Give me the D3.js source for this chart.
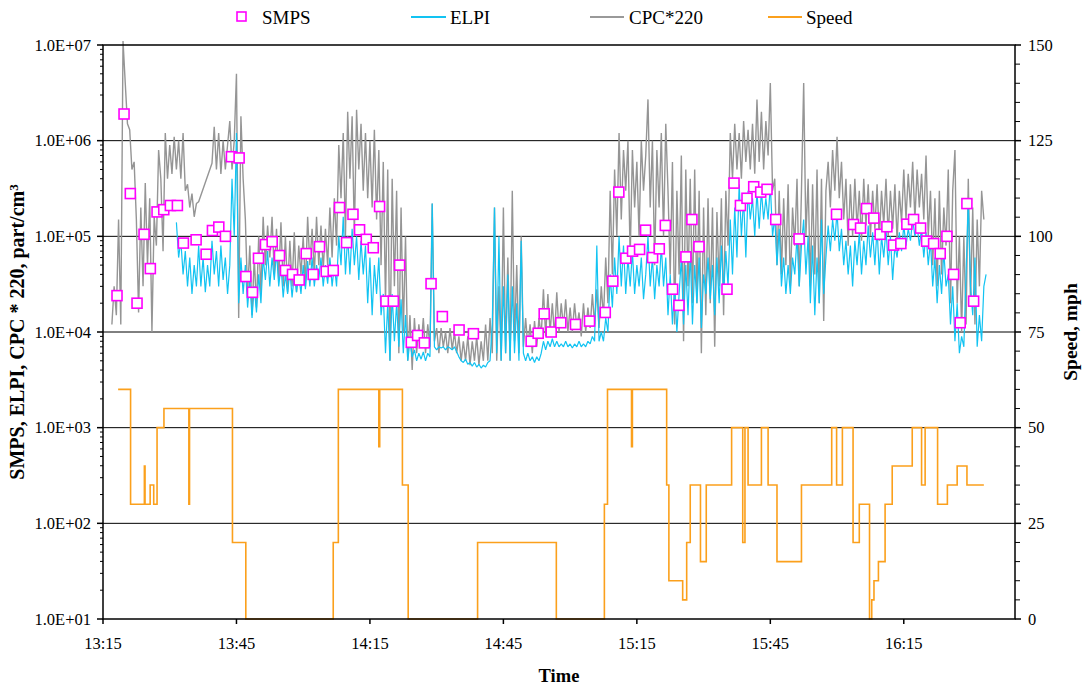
<!DOCTYPE html>
<html><head><meta charset="utf-8">
<script src="https://cdn.jsdelivr.net/npm/d3@7"></script>
<style>
body{margin:0;background:#fff;}
svg{display:block;}
svg text{font-family:"Liberation Serif","Times New Roman",serif;}
</style></head>
<body><svg id="c" width="1083" height="688"></svg>
<script>
// ---------- DATA ----------
const startClock = "13:15";          // time origin; all times below are minutes after it
const endMinutes = 205;              // x axis ends 16:40
const xTickMinutes = [0, 30, 60, 90, 120, 150, 180];
const yTickValues = [1e1, 1e2, 1e3, 1e4, 1e5, 1e6, 1e7];
const speedTicks = [0, 25, 50, 75, 100, 125, 150];

// SMPS samples (minutes after 13:15, part/cm3)
const smpsT = [3.15,4.73,6.14,7.65,9.23,10.64,12.15,13.66,15.14,16.72,18.07,20.93,23.18,24.6,26.03,27.52,28.87,30.6,32.11,33.6,34.95,36.52,38.03,39.67,41.02,42.6,44.1,45.68,47.25,48.67,50.18,51.75,53.17,54.75,56.19,57.67,59.18,60.75,62.17,63.61,65.26,66.67,69.3,70.72,72.23,73.74,76.28,80.04,83.26,96.24,97.82,99.17,100.74,102.9,106.21,109.36,112.9,114.6,115.95,117.53,119.03,120.61,121.96,123.54,125.04,126.4,128.04,129.46,131.03,132.38,133.96,140.26,141.84,143.28,144.76,146.27,147.84,149.26,151.22,156.46,164.88,168.7,170.28,171.63,173.27,174.69,176.2,177.7,179.34,180.69,182.2,183.78,185.13,186.71,188.19,189.7,191.2,192.68,194.19,195.7];
const smpsV = [2.4e4,1.9e6,2.8e5,2e4,1.05e5,4.6e4,1.8e5,1.9e5,2.1e5,2.1e5,8.5e4,9.2e4,6.5e4,1.15e5,1.25e5,1e5,6.8e5,6.6e5,3.8e4,2.6e4,5.9e4,8.2e4,8.8e4,6.3e4,4.4e4,4e4,3.5e4,6.6e4,4e4,7.8e4,4.3e4,4.4e4,2e5,8.6e4,1.7e5,1.17e5,9.3e4,7.6e4,2.05e5,2.1e4,2.1e4,5e4,7.8e3,9.2e3,7.7e3,3.2e4,1.45e4,1.05e4,9.6e3,8e3,9.7e3,1.55e4,1e4,1.25e4,1.2e4,1.3e4,1.6e4,3.4e4,2.9e5,5.9e4,7e4,7.3e4,1.16e5,6e4,7.4e4,1.3e5,2.8e4,1.9e4,6.1e4,1.5e5,7.8e4,2.8e4,3.6e5,2.1e5,2.5e5,3.3e5,2.9e5,3.1e5,1.5e5,9.4e4,1.7e5,1.33e5,1.22e5,1.95e5,1.55e5,1.05e5,1.26e5,8.1e4,8.4e4,1.34e5,1.5e5,1.22e5,8.9e4,8.4e4,6.6e4,1e5,4e4,1.25e4,2.2e5,2.1e4];

// CPC*220, every 0.5 min from minute 2.0 (null = no reading)
const cpcStart = 2.0, cpcStep = 0.5;
const cpcV = [1.2e4,3e4,1.5e4,1.5e5,1.2e4,1.1e7,4e6,1.5e6,1.3e6,5e5,
6e5,1.5e5,1.6e4,2e5,3e4,3.6e5,5e4,2.5e5,1e4,1.6e5,
8e4,8e5,4e5,7e4,1.2e6,4e5,9e5,4.5e5,1.1e6,5e5,
1e6,4e5,1.2e6,3e5,3.5e5,2e5,2.8e5,1.6e5,2.2e5,2.3e5,
null,null,null,null,null,5.8e5,
1.4e6,5e5,1.2e6,4.5e5,1e6,5e5,9e5,1.6e6,5e5,1e6,
5e6,1.4e4,1.8e6,4e5,1.5e5,2.5e4,8e4,1.5e4,6e4,1.8e4,
1e5,2.5e4,1.6e5,5e4,1.3e5,6e4,1.6e5,4e4,1.2e5,3.5e4,
1.4e5,3e4,1e5,2.6e4,9e4,3e4,1.1e5,2.6e4,8e4,4e4,
1e5,3e4,1.6e5,5e4,1.2e5,4e4,1.6e5,5e4,1.3e5,4.5e4,
1.2e5,5e4,2e5,6e4,2.5e5,8e4,9e5,2.5e5,1.2e6,1e5,
2e6,4e5,1.8e6,1e5,2.1e6,5e5,1.5e6,3e5,1.2e6,2.5e5,
1e6,2e5,1.3e6,1.5e5,8e5,5e4,6e5,2e4,5e5,5e3,
4e5,3e4,3e5,6e3,2e5,1e4,1e5,5e3,1.5e4,4e3,
1.4e4,6e3,1.2e4,7e3,1.4e4,6e3,1.2e4,7e3,2.2e5,8e3,
1.1e4,6e3,1.1e4,7e3,1e4,6e3,1.1e4,6.5e3,1e4,6e3,
9e3,5e3,8e3,5e3,9e3,4.5e3,8e3,5e3,9e3,4.5e3,
8e3,5e3,1.2e4,5e3,1.4e4,6e3,2e5,5e3,3e4,5e3,
2e5,6e3,6e4,5e3,3e5,8e3,5e4,6e3,1e5,7e3,
1.4e4,7e3,1.2e4,6e3,1.3e4,7e3,1.4e4,9e3,2.8e4,9e3,
2.5e4,1e4,2e4,9e3,2.6e4,1e4,2e4,1.1e4,2.2e4,1e4,
1.8e4,1e4,2e4,1.1e4,1.6e4,9e3,2e4,1e4,1.8e4,1.1e4,
2.5e4,1.2e4,2.8e4,1.1e4,3e4,1.4e4,6e4,2e4,3e5,4e4,
5e5,1e5,1.2e6,1.5e5,8e5,3e5,1e6,6e4,8e5,2e5,
6e5,1e5,1e6,3e5,7e5,2.7e6,2e5,1e6,5e4,8e5,
2e5,1.2e6,1e5,1.5e6,3e5,4e4,6e5,1.2e4,3e5,4e4,
7e5,8e3,5e5,3e4,4e5,2e4,5e5,2e4,3e5,6e3,
2e5,1.5e4,2.5e5,2e4,2e5,7e3,1.8e5,3e4,2.5e5,1.5e4,
3e5,8e4,1.2e6,4e5,1.5e6,5e5,1.2e6,4e5,1.6e6,6e5,
1.3e6,5e5,1.5e6,4.5e5,2.7e6,6e5,2e6,5e5,1.6e6,7e5,
4e6,3e5,4e5,5e4,3e5,4e4,2.5e5,5e4,3.5e5,3e4,
2e5,8e4,4e5,3e4,3e5,4e6,1e5,4e5,3e4,3.5e5,
4e4,5e5,2e4,4e5,1.3e4,3e5,6e5,2e5,8e5,3e5,
1.1e6,2.5e5,6e5,1.5e5,4e5,8e4,3.5e5,1e5,4e5,1.2e5,
3e5,9e4,4e5,1.3e5,3.5e5,1e5,3e5,1.2e5,3.5e5,9e4,
3e5,1.3e5,4e5,1e5,3e5,1.2e5,3.5e5,9e4,3e5,1.4e5,
5e5,1.5e5,4.5e5,2e5,6e5,1.5e5,5e5,2e5,4.5e5,1.5e5,
7e5,1e5,3e5,5e4,2.5e5,3e4,3e5,4e4,2e5,8e4,
5e5,2e4,3e5,8e5,2e4,1e5,1e4,1e5,1.2e4,4e5,
2e4,2e5,1.2e4,1.5e5,3e4,3e5,1.5e5];

// ELPI, every 0.5 min from minute 16.5
const elpiStart = 16.5, elpiStep = 0.5;
const elpiV = [1.4e5,6e4,9e4,4e4,7e4,3e4,6e4,2.5e4,5e4,3e4,
8e4,3e4,6e4,2.6e4,5e4,3e4,9e4,4e4,7e4,3e4,
8e4,3.5e4,6e4,2.5e4,5e4,4e5,1e5,1.2e6,2e4,6e4,
2.5e4,5e4,1.8e4,3.5e4,1.4e4,3e4,1.6e4,4e4,2e4,6e4,
3.5e4,7e4,3e4,6e4,3.5e4,7e4,3e4,5e4,2.3e4,4e4,
2.5e4,4.5e4,2.3e4,4e4,2.6e4,4e4,2.5e4,5e4,2.8e4,5.5e4,
3e4,6e4,3e4,5e4,3.5e4,6e4,3e4,5e4,3.2e4,6e4,
3e4,5e4,3e4,1e5,5e4,1.6e5,4e4,1e5,4e4,1.2e5,
5e4,1e5,3.5e4,9e4,4e4,8e4,2e4,6e4,1.5e4,5e4,
2.5e4,6e4,1.5e4,2.5e4,6e3,2e4,5e3,2.5e4,8e3,2e4,
7e3,2.2e4,6e3,1.5e4,5e3,8e3,5.5e3,6.5e3,5e3,6e3,
5.2e3,6.2e3,5e3,6e3,5.5e3,2.2e5,7e3,6.5e3,7e3,6.8e3,
7e3,6.5e3,7e3,6.8e3,6.5e3,7e3,6.2e3,5.5e3,5e3,4.8e3,
5.2e3,4.6e3,4.8e3,4.4e3,4.8e3,4.3e3,4.6e3,4.2e3,4.5e3,4.3e3,
4.8e3,5e3,1.2e4,2e5,6e3,1e5,5e3,3e4,6e3,4e4,
5e3,3e4,6e3,2e4,5e3,9e4,6e3,5e3,6e3,5e3,
5.5e3,4.8e3,5.5e3,5e3,6e3,8e3,6.5e3,8e3,7e3,8.5e3,
7e3,8e3,7e3,7.5e3,7e3,8e3,7e3,7.5e3,6.8e3,7.5e3,
7e3,8e3,7e3,7.5e3,7e3,8e3,7.5e3,9e3,8e3,8e4,
8e3,1e4,8e3,1.4e4,1e4,4e4,1.8e4,6e4,2.5e4,1e5,
3e4,8e4,2.5e4,6e4,3e4,7e4,2.5e4,5e4,3e4,6e4,
2.2e4,4e4,1e5,3e4,6e4,2.2e4,5e4,3e4,8e4,3e4,
6e4,1.5e4,4e4,1.2e4,3e4,1e4,2.5e4,6e4,1.2e4,5e4,
1.5e4,7e4,1.2e4,5e4,2e4,6e4,1.1e4,4e4,2.5e4,6e4,
2.2e4,5e4,1.5e4,6e4,2e4,8e4,2.5e4,7e4,3e4,1.5e5,
4e4,2e5,6e4,3.5e5,1e5,2.5e5,6e4,3e5,1.5e5,2.5e5,
1e5,3e5,1.2e5,3e5,1.5e5,2.5e5,1.5e5,3.5e5,1e5,1.6e5,
5e4,1.2e5,3e4,6e4,2.5e4,5e4,2.5e4,6e4,4e4,1e5,
3e4,8e4,1.5e5,4e4,1e5,2e4,8e4,1.5e4,6e4,2e4,
1.5e5,2.5e4,6e4,1.3e5,7e4,1.5e5,9e4,1.8e5,7e4,1.2e5,
5e4,9e4,4e4,8e4,3e4,9e4,5e4,1.1e5,4e4,9e4,
5e4,1.3e5,6e4,1.1e5,5e4,1.2e5,4e4,1e5,6e4,1.2e5,
5e4,1e5,3.5e4,8e4,6e4,1.1e5,7e4,1.3e5,8e4,1.2e5,
9e4,1.5e5,1e5,1.3e5,8e4,1.2e5,6e4,1.1e5,5e4,9e4,
3e4,6e4,2e4,5e4,2.5e4,7e4,3e4,4e4,1.2e4,3e4,
8e3,2e4,6e3,9e3,7e3,4e4,2.4e5,3e4,1.5e4,6e4,
7e3,1.5e4,8e3,3e4,4e4];

// Speed (mph): value holds from each change time until the next
const speedT = [3.4,6.2,9.3,9.45,10.6,11.4,12.15,13.7,19.3,19.45,29.1,32.1,51.75,52.9,62.0,62.2,67.3,68.6,84.2,101.9,112.7,113.4,118.8,119.0,126.7,127.2,130.3,131.2,132.0,134.3,135.6,141.3,143.8,144.3,145.0,148.0,149.5,151.5,157.0,163.8,164.9,166.2,168.6,170.0,172.3,172.8,173.3,174.3,175.8,177.4,181.9,184.0,184.8,187.6,189.8,192.0,194.2,198.0];
const speedV = [60,30,40,30,35,30,50,55,30,55,20,0,20,60,45,60,35,0,20,0,30,60,45,60,35,10,5,20,35,15,35,50,20,50,35,50,35,15,35,50,35,50,20,30,0,5,10,15,30,40,50,35,50,30,35,40,35,35];

// ---------- CHART ----------
const svg = d3.select("#c");
const L = 103, R = 1015, T = 45, B = 619;
const parse = d3.timeParse("%H:%M");
const t0 = parse(startClock);
const at = m => new Date(t0.getTime() + m * 60000);

const x = d3.scaleTime().domain([at(0), at(endMinutes)]).range([L, R]);
const y = d3.scaleLog().domain([1e1, 1e7]).range([B, T]);
const y2 = d3.scaleLinear().domain([0, 150]).range([B, T]);

// gridlines
svg.append("g").selectAll("line").data(yTickValues.slice(1, -1)).join("line")
  .attr("x1", L).attr("x2", R).attr("y1", d => y(d)).attr("y2", d => y(d))
  .attr("stroke", "#000").attr("stroke-width", 1);

// CPC
const cpcPts = cpcV.map((v, i) => ({t: at(cpcStart + i * cpcStep), v})).filter(d => d.v != null);
const lineLog = d3.line().x(d => x(d.t)).y(d => y(d.v));
svg.append("path").datum(cpcPts).attr("d", lineLog)
  .attr("fill", "none").attr("stroke", "#959595").attr("stroke-width", 1.4).attr("stroke-linejoin", "bevel");

// ELPI
const elpiPts = elpiV.map((v, i) => ({t: at(elpiStart + i * elpiStep), v}));
svg.append("path").datum(elpiPts).attr("d", lineLog)
  .attr("fill", "none").attr("stroke", "#12C3F2").attr("stroke-width", 1.2).attr("stroke-linejoin", "bevel");

// Speed
const spPts = speedT.map((m, i) => ({t: at(m), v: speedV[i]}));
svg.append("path").datum(spPts)
  .attr("d", d3.line().curve(d3.curveStepAfter).x(d => x(d.t)).y(d => y2(d.v)))
  .attr("fill", "none").attr("stroke", "#FBA01C").attr("stroke-width", 1.6);

// SMPS squares
svg.append("g").selectAll("rect").data(smpsT.map((m, i) => ({t: at(m), v: smpsV[i]}))).join("rect")
  .attr("x", d => x(d.t) - 5).attr("y", d => y(d.v) - 5).attr("width", 10).attr("height", 10)
  .attr("fill", "#fff").attr("stroke", "#FF00FF").attr("stroke-width", 1.6);

// frame
svg.append("rect").attr("x", L).attr("y", T).attr("width", R - L).attr("height", B - T)
  .attr("fill", "none").attr("stroke", "#000").attr("stroke-width", 1.5);

// axes
const fmtE = d => { const e = Math.round(Math.log10(d)); return "1.0E+" + String(e).padStart(2, "0"); };
const minorLog = [];
for (let e = 1; e < 7; e++) for (let k = 2; k <= 9; k++) minorLog.push(k * Math.pow(10, e));
const gl = svg.append("g");
gl.selectAll("line.mi").data(minorLog).join("line").attr("class","mi")
  .attr("x1", L - 3).attr("x2", L).attr("y1", d => y(d)).attr("y2", d => y(d)).attr("stroke", "#000");
gl.selectAll("line.ma").data(yTickValues).join("line").attr("class","ma")
  .attr("x1", L - 6).attr("x2", L).attr("y1", d => y(d)).attr("y2", d => y(d)).attr("stroke", "#000").attr("stroke-width", 1.5);
gl.selectAll("text").data(yTickValues).join("text")
  .attr("x", L - 12).attr("y", d => y(d)).attr("dy", "0.35em").attr("text-anchor", "end")
  .attr("font-size", 16.5).text(fmtE);

const minorSp = d3.range(0, 151, 5).filter(v => v % 25 !== 0);
const gr = svg.append("g");
gr.selectAll("line.mi").data(minorSp).join("line").attr("class","mi")
  .attr("x1", R).attr("x2", R + 5).attr("y1", d => y2(d)).attr("y2", d => y2(d)).attr("stroke", "#000");
gr.selectAll("line.ma").data(speedTicks).join("line").attr("class","ma")
  .attr("x1", R).attr("x2", R + 6).attr("y1", d => y2(d)).attr("y2", d => y2(d)).attr("stroke", "#000").attr("stroke-width", 1.5);
gr.selectAll("text").data(speedTicks).join("text")
  .attr("x", R + 13).attr("y", d => y2(d)).attr("dy", "0.35em").attr("font-size", 16.5).text(d => d);

const gx = svg.append("g");
const fmtT = d3.timeFormat("%H:%M");
gx.selectAll("line").data(xTickMinutes).join("line")
  .attr("x1", d => x(at(d))).attr("x2", d => x(at(d))).attr("y1", B).attr("y2", B + 5)
  .attr("stroke", "#000").attr("stroke-width", 1.5);
gx.selectAll("text").data(xTickMinutes).join("text")
  .attr("x", d => x(at(d))).attr("y", B + 30).attr("text-anchor", "middle").attr("font-size", 16.5)
  .text(d => fmtT(at(d)));

// titles
svg.append("text").attr("x", (L + R) / 2).attr("y", 682).attr("text-anchor", "middle")
  .attr("font-size", 18.5).attr("font-weight", "bold").text("Time");
const lt = svg.append("text").attr("transform", `translate(24,${(T + B) / 2}) rotate(-90)`)
  .attr("text-anchor", "middle").attr("font-size", 20).attr("font-weight", "bold");
lt.append("tspan").text("SMPS, ELPI, CPC * 220, part/cm");
lt.append("tspan").attr("dy", "-0.45em").attr("font-size", 13).text("3");
svg.append("text").attr("transform", `translate(1077,${(T + B) / 2}) rotate(-90)`)
  .attr("text-anchor", "middle").attr("font-size", 19.5).attr("font-weight", "bold").text("Speed, mph");

// legend
const lg = svg.append("g").attr("font-size", 19);
lg.append("rect").attr("x", 237).attr("y", 12).attr("width", 9).attr("height", 9)
  .attr("fill", "#fff").attr("stroke", "#FF00FF").attr("stroke-width", 1.6);
lg.append("text").attr("x", 262).attr("y", 24).text("SMPS");
[[411, 446, "#12C3F2", "ELPI", 450], [590, 624, "#999999", "CPC*220", 629], [768, 802, "#FBA01C", "Speed", 806]]
  .forEach(([a, b, c, s, tx]) => {
    lg.append("line").attr("x1", a).attr("x2", b).attr("y1", 17).attr("y2", 17).attr("stroke", c).attr("stroke-width", 2);
    lg.append("text").attr("x", tx).attr("y", 24).text(s);
  });
</script></body></html>
